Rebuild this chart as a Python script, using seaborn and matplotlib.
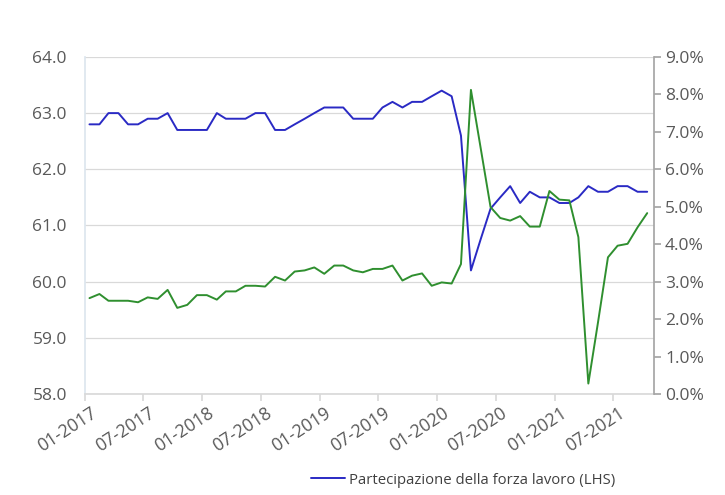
import matplotlib
matplotlib.use("Agg")
import matplotlib.pyplot as plt
import matplotlib.dates as mdates
import matplotlib.transforms as mtransforms
from matplotlib.ticker import FuncFormatter, MultipleLocator
import pandas as pd
import seaborn as sns

# monthly data, 01-2017 .. 10-2021
months = pd.date_range("2017-01-01", periods=58, freq="MS")

partecipazione = [
    62.8, 62.8, 63.0, 63.0, 62.8, 62.8, 62.9, 62.9, 63.0, 62.7,
    62.7, 62.7, 62.7, 63.0, 62.9, 62.9, 62.9, 63.0, 63.0, 62.7,
    62.7, 62.8, 62.9, 63.0, 63.1, 63.1, 63.1, 62.9, 62.9, 62.9,
    63.1, 63.2, 63.1, 63.2, 63.2, 63.3, 63.4, 63.3, 62.6, 60.2,
    60.75, 61.3, 61.5, 61.7, 61.4, 61.6, 61.5, 61.5, 61.4, 61.4,
    61.5, 61.7, 61.6, 61.6, 61.7, 61.7, 61.6, 61.6,
]

# right-hand series, in %
serie_rhs = [
    2.56, 2.67, 2.49, 2.49, 2.49, 2.45, 2.58, 2.54, 2.78, 2.30,
    2.38, 2.64, 2.64, 2.52, 2.74, 2.74, 2.89, 2.89, 2.87, 3.13,
    3.03, 3.27, 3.30, 3.38, 3.21, 3.43, 3.43, 3.30, 3.25, 3.34,
    3.34, 3.43, 3.03, 3.16, 3.22, 2.89, 2.98, 2.95, 3.47, 8.12,
    6.58, 4.99, 4.70, 4.63, 4.75, 4.47, 4.47, 5.42, 5.19, 5.17,
    4.19, 0.28, 1.91, 3.65, 3.96, 4.01, 4.45, 4.83,
]

label_lhs = "Partecipazione della forza lavoro (LHS)"

df = pd.DataFrame({
    "mese": months + pd.Timedelta(days=14),
    "lhs": partecipazione,
    "rhs": serie_rhs,
})

sns.set_theme(style="white")
plt.rcParams["font.family"] = ["Open Sans", "DejaVu Sans"]

text_col = "#595959"
grid_col = "#d9d9d9"

fig = plt.figure(figsize=(7.25, 4.95), dpi=100)
ax = fig.add_axes([0.1172, 0.204, 0.7848, 0.681])

sns.lineplot(data=df, x="mese", y="lhs", ax=ax, color="#2a2ac4", lw=1.4, label=label_lhs)
ax2 = ax.twinx()
sns.lineplot(data=df, x="mese", y="rhs", ax=ax2, color="#2f8f2f", lw=1.4)

ax.set_ylim(58, 64)
ax2.set_ylim(0, 9)
ax.set_xlim(pd.Timestamp("2017-01-01"), pd.Timestamp("2021-11-05"))

ax.yaxis.set_major_locator(MultipleLocator(1))
ax.yaxis.set_major_formatter(FuncFormatter(lambda v, p: f"{v:.1f}"))
ax2.yaxis.set_major_locator(MultipleLocator(1))
ax2.yaxis.set_major_formatter(FuncFormatter(lambda v, p: f"{v:.1f}%"))

ax.xaxis.set_major_locator(mdates.MonthLocator(bymonth=[1, 7]))
ax.xaxis.set_major_formatter(mdates.DateFormatter("%m-%Y"))

ax.grid(axis="y", color=grid_col, lw=0.9)
ax.set_axisbelow(True)
ax.set_xlabel("")
ax.set_ylabel("")
ax2.set_ylabel("")

for a in (ax, ax2):
    a.spines["top"].set_visible(False)
ax.spines["right"].set_visible(False)
ax.spines["left"].set_color("#dde6ee")
ax.spines["bottom"].set_color(grid_col)
ax2.spines["left"].set_visible(False)
ax2.spines["bottom"].set_visible(False)
ax2.spines["right"].set_color("#a6a6a6")

ax.tick_params(axis="y", length=0, labelsize=12.5, labelcolor=text_col, pad=13)
ax.tick_params(axis="x", bottom=True, length=5, color=grid_col, labelsize=12.8,
               labelcolor=text_col, pad=2)
ax2.tick_params(axis="y", right=True, length=5, color="#a6a6a6", labelsize=12.5,
                labelcolor=text_col, pad=3)

shift = mtransforms.ScaledTranslation(5 / 100, 0, fig.dpi_scale_trans)
for lbl in ax.get_xticklabels():
    lbl.set_rotation(33)
    lbl.set_ha("right")
    lbl.set_rotation_mode("anchor")
    lbl.set_transform(lbl.get_transform() + shift)

handles, labels = ax.get_legend_handles_labels()
ax.get_legend().remove()
fig.legend(handles, labels, loc="center left", bbox_to_anchor=(0.41, 0.03),
           frameon=False, fontsize=10.7, handlelength=2.3, handletextpad=0.3,
           labelcolor="#404040")

fig.savefig("out.png", dpi=100)
